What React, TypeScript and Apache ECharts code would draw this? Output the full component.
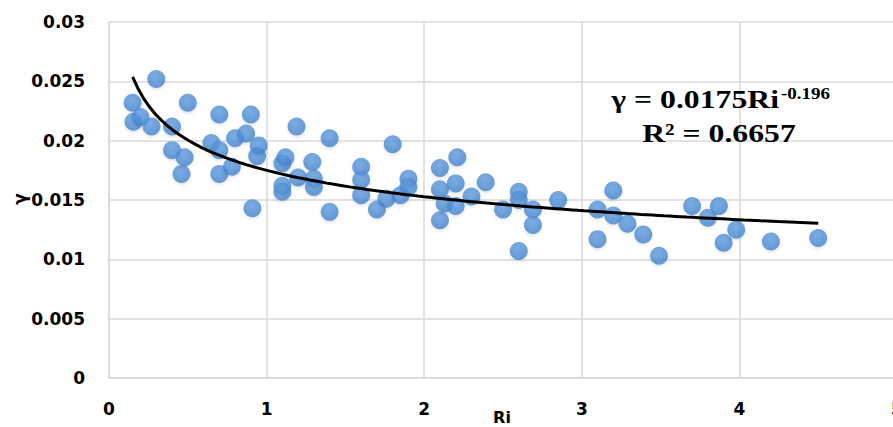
import React, { useEffect, useRef } from "react";
import * as echarts from "echarts";

// Measured points: Richardson number (Ri) and mixing coefficient (γ)
const riValues = [
  0.15, 0.155, 0.2, 0.27, 0.3, 0.4, 0.4, 0.46, 0.48, 0.5,
  0.65, 0.7, 0.7, 0.7, 0.78, 0.8, 0.87, 0.9, 0.91, 0.94,
  0.95, 1.1, 1.12, 1.1, 1.1, 1.19, 1.2, 1.29, 1.3, 1.3,
  1.4, 1.4, 1.6, 1.6, 1.6, 1.7, 1.76, 1.8, 1.85, 1.9,
  1.9, 2.1, 2.1, 2.1, 2.13, 2.2, 2.2, 2.21, 2.3, 2.39,
  2.5, 2.6, 2.6, 2.6, 2.69, 2.69, 2.85, 3.1, 3.1, 3.2,
  3.2, 3.29, 3.39, 3.49, 3.7, 3.8, 3.87, 3.9, 3.98, 4.2,
  4.5,
];
const gammaValues = [
  0.0232, 0.0216, 0.022, 0.0212, 0.0252, 0.0212, 0.0192, 0.0172, 0.0186, 0.0232,
  0.0198, 0.0222, 0.0192, 0.0172, 0.0178, 0.0202, 0.0206, 0.0222, 0.0143, 0.0187,
  0.0196, 0.0181, 0.0186, 0.0162, 0.0157, 0.0212, 0.0169, 0.0182, 0.0168, 0.0161,
  0.0202, 0.014, 0.0178, 0.0167, 0.0154, 0.0142, 0.0151, 0.0197, 0.0154, 0.0168,
  0.0161, 0.0177, 0.0159, 0.0133, 0.0147, 0.0164, 0.0145, 0.0186, 0.0153, 0.0165,
  0.0142, 0.0157, 0.015, 0.0107, 0.0142, 0.0129, 0.015, 0.0142, 0.0117, 0.0158,
  0.0137, 0.013, 0.0121, 0.0103, 0.0145, 0.0135, 0.0145, 0.0114, 0.0125, 0.0115,
  0.0118,
];

// Power-law trend line γ = a·Ri^b
const trendCoefA = 0.0175;
const trendCoefB = -0.196;
const trendRange = [0.15, 4.5];
const trendR2 = 0.6657;

const xTicks = [0, 1, 2, 3, 4, 5];
const yTicks = [0, 0.005, 0.01, 0.015, 0.02, 0.025, 0.03];

export default function App() {
  const ref = useRef<HTMLDivElement>(null);

  useEffect(() => {
    if (!ref.current) return;
    const chart = echarts.init(ref.current, null, { renderer: "svg" });

    const points = riValues.map((x, i) => [x, gammaValues[i]]);
    const trend: number[][] = [];
    const steps = 120;
    for (let i = 0; i <= steps; i++) {
      const x = trendRange[0] + ((trendRange[1] - trendRange[0]) * i) / steps;
      trend.push([x, trendCoefA * Math.pow(x, trendCoefB)]);
    }

    const labelFont = {
      fontFamily: "DejaVu Sans",
      fontWeight: "bold" as const,
      fontSize: 17,
      color: "#000",
    };
    const gridColor = "#d9d9d9";

    chart.setOption({
      animation: false,
      backgroundColor: "#fff",
      grid: {
        left: 109,
        right: -4,
        top: 22,
        bottom: 49,
        containLabel: false,
        outerBoundsMode: "none",
      },
      xAxis: {
        type: "value",
        min: xTicks[0],
        max: xTicks[xTicks.length - 1],
        interval: 1,
        axisLine: { show: true, lineStyle: { color: gridColor, width: 1.5 } },
        axisTick: { show: false },
        splitLine: { show: true, lineStyle: { color: gridColor, width: 1.5 } },
        axisLabel: { ...labelFont, margin: 22, formatter: (v: number) => String(v) },
      },
      yAxis: {
        type: "value",
        min: yTicks[0],
        max: yTicks[yTicks.length - 1],
        interval: 0.005,
        axisLine: { show: true, lineStyle: { color: gridColor, width: 1.5 } },
        axisTick: { show: false },
        splitLine: { show: true, lineStyle: { color: gridColor, width: 1.5 } },
        axisLabel: { ...labelFont, margin: 24, formatter: (v: number) => String(+v.toFixed(3)) },
      },
      series: [
        {
          type: "scatter",
          data: points,
          symbol: "circle",
          symbolSize: 18,
          itemStyle: {
            color: {
              type: "radial",
              x: 0.45,
              y: 0.35,
              r: 0.7,
              colorStops: [
                { offset: 0, color: "#5f9ce0" },
                { offset: 1, color: "#3f7fca" },
              ],
            },
            shadowBlur: 3,
            shadowColor: "rgba(0,0,0,0.12)",
            shadowOffsetY: 2,
          },
          z: 2,
        },
        {
          type: "line",
          data: trend,
          showSymbol: false,
          symbol: "none",
          lineStyle: { color: "#000", width: 3 },
          z: 3,
        },
      ],
      graphic: [
        {
          type: "text",
          x: 779,
          y: 99,
          scaleX: 1.22,
          style: {
            text: "γ = " + trendCoefA + "Ri",
            font: "bold 26px 'Liberation Serif'",
            fill: "#000",
            textAlign: "right",
            textVerticalAlign: "middle",
          },
          z: 10,
        },
        {
          type: "text",
          x: 781,
          y: 93,
          scaleX: 1.12,
          style: {
            text: String(trendCoefB),
            font: "bold 17px 'Liberation Serif'",
            fill: "#000",
            textAlign: "left",
            textVerticalAlign: "middle",
          },
          z: 10,
        },
        {
          type: "text",
          x: 719,
          y: 133,
          scaleX: 1.22,
          style: {
            text: "R² = " + trendR2,
            font: "bold 26px 'Liberation Serif'",
            fill: "#000",
            textAlign: "center",
            textVerticalAlign: "middle",
          },
          z: 10,
        },
        {
          type: "text",
          x: 20,
          y: 199,
          rotation: Math.PI / 2,
          style: {
            text: "γ",
            font: "bold 17px 'DejaVu Sans'",
            fill: "#000",
            textAlign: "center",
            textVerticalAlign: "middle",
          },
        },
        {
          type: "text",
          x: 502,
          y: 417,
          style: {
            text: "Ri",
            font: "bold 16px 'DejaVu Sans'",
            fill: "#000",
            textAlign: "center",
            textVerticalAlign: "middle",
          },
        },
      ],
    });

    return () => chart.dispose();
  }, []);

  return (
    <div
      ref={ref}
      style={{ position: "fixed", left: 0, top: 0, width: 893, height: 427 }}
    />
  );
}
